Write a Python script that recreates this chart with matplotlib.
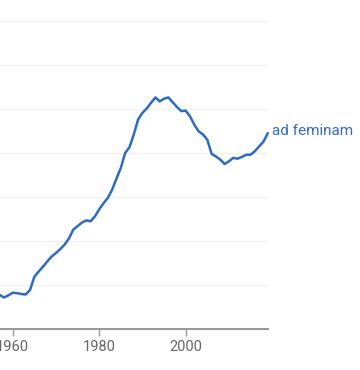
import numpy as np
import matplotlib.pyplot as plt

plt.rcParams['font.family'] = ['Roboto', 'DejaVu Sans']

years = np.arange(1957, 2020)
values = [0.78, 0.72, 0.77, 0.83, 0.82, 0.80, 0.79, 0.89, 1.19, 1.31,
          1.42, 1.54, 1.65, 1.73, 1.82, 1.92, 2.06, 2.26, 2.34, 2.42,
          2.47, 2.45, 2.56, 2.72, 2.86, 2.98, 3.17, 3.42, 3.66, 4.00,
          4.13, 4.42, 4.76, 4.91, 5.01, 5.14, 5.26, 5.17, 5.23, 5.26,
          5.15, 5.04, 4.95, 4.96, 4.83, 4.64, 4.49, 4.42, 4.30, 3.98,
          3.92, 3.85, 3.75, 3.81, 3.89, 3.87, 3.91, 3.96, 3.96, 4.04,
          4.15, 4.26, 4.45]
label = "ad feminam"
xticks = [1960, 1980, 2000]

blue = '#2d6bc4'

fig = plt.figure(figsize=(3.6, 3.7), dpi=100)
ax = fig.add_axes([0, 0.11, 0.744, 0.89])

ax.plot(years, values, color=blue, lw=1.8, solid_capstyle='round',
        solid_joinstyle='round', clip_on=False)
ax.set_xlim(1957.06, 2019)
ax.set_ylim(0, 7.47)

ax.set_yticks(range(1, 8))
ax.yaxis.grid(True, color='#f3f3f3', lw=1)
ax.tick_params(axis='y', left=False, labelleft=False)
ax.set_xticks(xticks)
ax.tick_params(axis='x', colors='#999999', length=5, width=1, labelsize=10.5,
               labelcolor='#666666', pad=3)
for s in ['top', 'right', 'left']:
    ax.spines[s].set_visible(False)
ax.spines['bottom'].set_color('#999999')
ax.spines['bottom'].set_linewidth(1.5)
ax.set_axisbelow(True)

ax.text(2019.9, values[-1] + 0.05, label, color='#3a6cbc', fontsize=11,
        va='center', ha='left', clip_on=False)

fig.savefig('out.png', dpi=100)
